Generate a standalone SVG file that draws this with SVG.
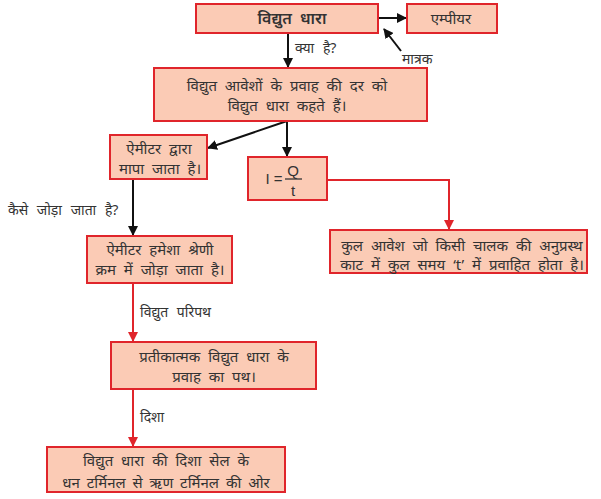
<svg xmlns="http://www.w3.org/2000/svg" width="601" height="499" viewBox="0 0 601 499">
<style>
.box{fill:#fbcbb5;stroke:#e0252b;stroke-width:2}
.t{font-family:"Noto Sans","DejaVu Sans",sans-serif;font-size:15px;word-spacing:4px;fill:#333;text-anchor:middle}
.lbl{font-family:"Noto Sans","DejaVu Sans",sans-serif;font-size:14px;word-spacing:5px;fill:#333}
.m{font-family:"Liberation Sans",sans-serif;font-size:15px;fill:#333;text-anchor:middle}
.blk{stroke:#111;stroke-width:2;fill:none}
.red{stroke:#e0252b;stroke-width:2;fill:none}
</style>
<defs>
<marker id="ab" viewBox="0 0 10 10" refX="9" refY="5" markerWidth="5" markerHeight="5" orient="auto"><path d="M0,0L10,5L0,10z" fill="#111"/></marker>
<marker id="ar" viewBox="0 0 10 10" refX="9" refY="5" markerWidth="5" markerHeight="5" orient="auto"><path d="M0,0L10,5L0,10z" fill="#e0252b"/></marker>
</defs>
<rect width="601" height="499" fill="#fff"/>
<g id="connectors">
<line class="blk" x1="378" y1="18" x2="406" y2="18" marker-end="url(#ab)"/>
<line class="blk" x1="401" y1="51" x2="384" y2="29" marker-end="url(#ab)"/>
<line class="blk" x1="288" y1="33" x2="288" y2="67" marker-end="url(#ab)"/>
<line class="blk" x1="287" y1="121" x2="208" y2="148" marker-end="url(#ab)"/>
<line class="blk" x1="287" y1="121" x2="287" y2="156" marker-end="url(#ab)"/>
<line class="blk" x1="133" y1="179" x2="133" y2="235" marker-end="url(#ab)"/>
<polyline class="red" points="327,180 449,180 449,229" marker-end="url(#ar)"/>
<line class="red" x1="133" y1="283" x2="133" y2="341" marker-end="url(#ar)"/>
<line class="red" x1="133" y1="389" x2="133" y2="446" marker-end="url(#ar)"/>
<text class="lbl" x="295" y="53">क्या है?</text>
<text class="lbl" x="402" y="64">मात्रक</text>
<text class="lbl" x="8" y="215">कैसे जोड़ा जाता है?</text>
<text class="lbl" x="140" y="317">विद्युत परिपथ</text>
<text class="lbl" x="140" y="422">दिशा</text>
</g>
<g id="n1"><rect class="box" x="196" y="4" width="182" height="29"/><text class="t" x="292" y="24" style="font-size:16px;font-weight:600">विद्युत धारा</text></g>
<g id="n2"><rect class="box" x="407" y="4" width="90" height="29"/><text class="t" x="451" y="24">एम्पीयर</text></g>
<g id="n3"><rect class="box" x="154" y="68" width="273" height="53"/><text class="t" x="287" y="91">विद्युत आवेशों के प्रवाह की दर को</text><text class="t" x="287" y="111">विद्युत धारा कहते हैं।</text></g>
<g id="n4"><rect class="box" x="110" y="135" width="97" height="44"/><text class="t" x="159" y="154">ऐमीटर द्वारा</text><text class="t" x="160" y="174">मापा जाता है।</text></g>
<g id="n5"><rect class="box" x="248" y="157" width="79" height="43"/><text class="m" x="274" y="184">I =</text><text class="m" x="293" y="176">Q</text><line x1="285" y1="179" x2="302" y2="179" stroke="#333" stroke-width="1.3"/><text class="m" x="293" y="196">t</text></g>
<g id="n6"><rect class="box" x="330" y="230" width="257" height="43"/><text class="t" x="462" y="251">कुल आवेश जो किसी चालक की अनुप्रस्थ</text><text class="t" x="462" y="270">काट में कुल समय ‘t’ में प्रवाहित होता है।</text></g>
<g id="n7"><rect class="box" x="87" y="236" width="145" height="47"/><text class="t" x="160" y="255">ऐमीटर हमेशा श्रेणी</text><text class="t" x="160" y="275">क्रम में जोड़ा जाता है।</text></g>
<g id="n8"><rect class="box" x="111" y="342" width="205" height="47"/><text class="t" x="214" y="362">प्रतीकात्मक विद्युत धारा के</text><text class="t" x="214" y="382">प्रवाह का पथ।</text></g>
<g id="n9"><rect class="box" x="47" y="447" width="238" height="45"/><text class="t" x="166" y="466">विद्युत धारा की दिशा सेल के</text><text class="t" x="166" y="488" style="word-spacing:3px">धन टर्मिनल से ऋण टर्मिनल की ओर</text></g>
</svg>
